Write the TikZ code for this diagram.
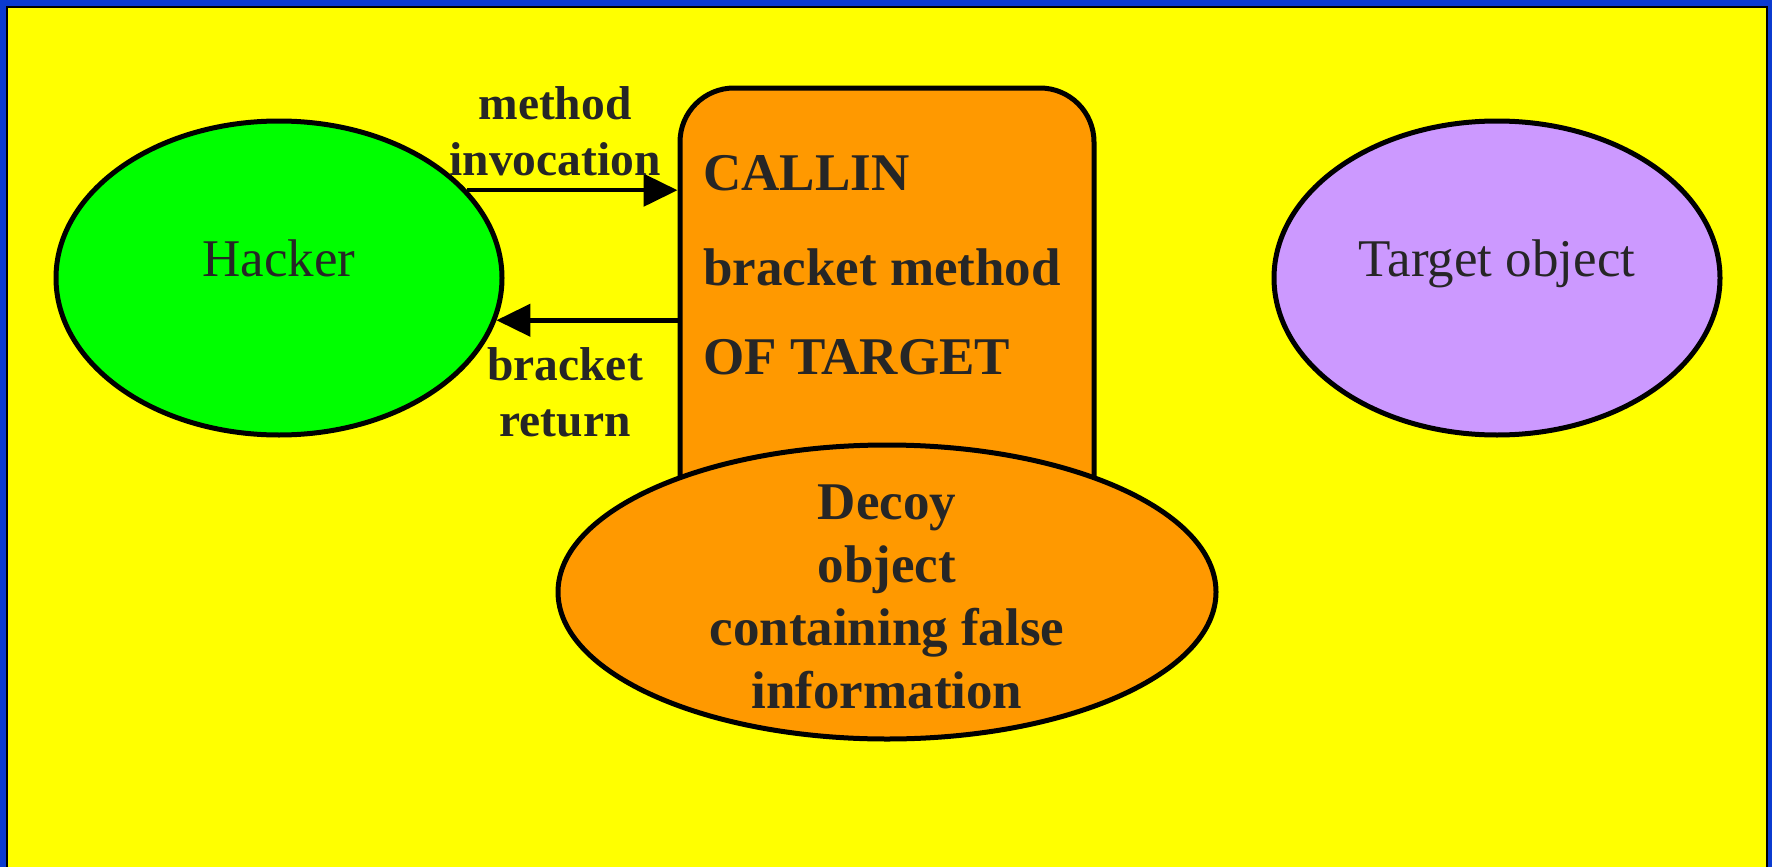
\documentclass[tikz,border=0pt]{standalone}
\usepackage{fontspec}
\setmainfont{Liberation Serif}
\usetikzlibrary{shapes.geometric,arrows.meta}
\definecolor{frameblue}{HTML}{0B3BD0}
\definecolor{bgyellow}{HTML}{FFFF00}
\definecolor{hackgreen}{HTML}{00FF00}
\definecolor{targetviolet}{HTML}{CC99FF}
\definecolor{decoyorange}{HTML}{FF9900}
\definecolor{inkgray}{HTML}{262626}
\tikzset{
  outlined/.style={draw=black, line width=5pt},
  blob/.style={outlined, ellipse, inner sep=0pt},
  plaintext/.style={text=inkgray, inner sep=0pt, anchor=base,
    font=\fontsize{53}{63}\selectfont},
  label/.style={text=inkgray, inner sep=0pt, align=center,
    font=\bfseries\fontsize{47.5}{57}\selectfont},
  boxtext/.style={text=inkgray, inner sep=0pt, anchor=west,
    font=\bfseries\fontsize{53}{63}\selectfont},
  arr/.style={line width=4.5pt, -{Triangle[length=34pt,width=32pt]}}
}
\begin{document}
\begin{tikzpicture}[x=1pt,y=-1pt]
\useasboundingbox (0,0) rectangle (1772,867);
% slide frame and background
\fill[frameblue] (0,0) rectangle (1772,867);
\draw[line width=2pt, fill=bgyellow] (7,7) rectangle (1767,870);

% side ellipses
\node[blob, fill=hackgreen, minimum width=446pt, minimum height=314pt] (hacker) at (279,278) {};
\node[plaintext] (hackertxt) at (279,276) {Hacker};
\node[blob, fill=targetviolet, minimum width=446pt, minimum height=314pt] (target) at (1497,278) {};
\node[plaintext] (targettxt) at (1497,276) {Target object};

% CALLIN bracket box
\node[outlined, fill=decoyorange, rectangle, rounded corners=54pt,
      minimum width=414pt, minimum height=452pt, inner sep=0pt] (box) at (887,314) {};
\node[boxtext] (l1) at (703,173) {CALLIN};
\node[boxtext] (l2) at (703,267) {bracket method};
\node[boxtext] (l3) at (703,357) {OF TARGET};

% decoy object
\node[blob, fill=decoyorange, minimum width=658pt, minimum height=294pt] (decoy) at (887,592) {};
\node[text=inkgray, inner sep=0pt, align=center,
      font=\bfseries\fontsize{53}{63}\selectfont] (decoytxt) at (887,597)
  {Decoy\\object\\containing false\\information};

% invocation and return
\draw[arr] (hacker.25.8) -- (hacker.25.8 -| box.west);
\draw[arr] (hacker.-11.6 -| box.west) -- (hacker.-11.6);
\node[label] (inv) at (555,131) {method\\[-1pt]invocation};
\node[label] (ret) at (565,392) {bracket\\[-1pt]return};
\end{tikzpicture}
\end{document}
